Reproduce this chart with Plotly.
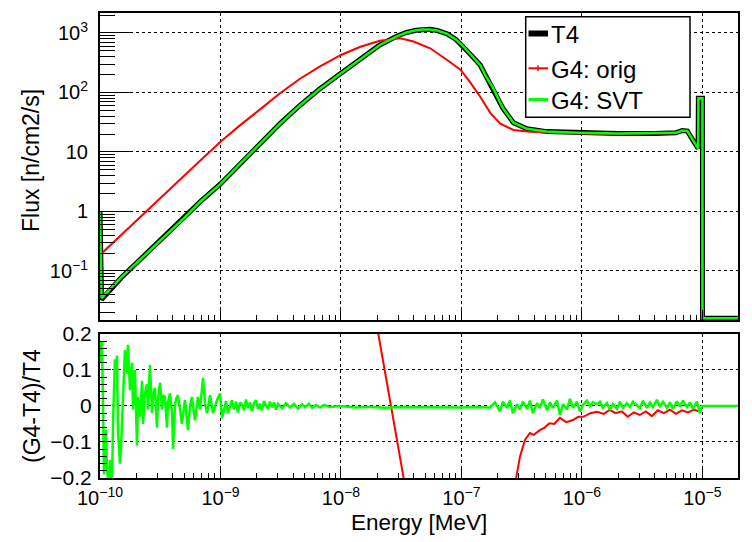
import plotly.graph_objects as go

# ---------------- data ----------------
# Top panel: neutron flux spectra, energy in MeV, flux in n/cm2/s (0 = empty bin)
t4_energy = [1.00e-10, 1.03e-10, 1.5e-10, 2e-10, 3e-10, 5e-10, 6.8e-10, 1e-9, 1.45e-9,
             2.13e-9, 3.12e-9, 4.57e-9, 6.7e-9, 1e-8, 1.45e-8, 2.1e-8, 2.9e-8, 3.5e-8,
             4.2e-8, 4.8e-8, 5.5e-8, 6.3e-8, 7.6e-8, 9e-8, 1e-7, 1.17e-7, 1.43e-7, 1.6e-7,
             1.82e-7, 2.0e-7, 2.2e-7, 2.7e-7, 3.5e-7, 5.1e-7, 9.5e-7, 2e-6, 4e-6, 6e-6,
             6.8e-6, 7.5e-6, 8.3e-6, 9.2e-6, 9.25e-6, 1.0e-5, 1.0001e-5, 2e-5]
t4_flux = [1.0, 0.033, 0.077, 0.135, 0.29, 0.78, 1.46, 2.9, 6.3,
           14, 30, 61, 116, 211, 370, 630, 880, 1020,
           1110, 1150, 1150, 1100, 970, 780, 640, 450, 290, 185,
           122, 82, 55, 31, 24.5, 22, 21, 20.5, 20.5, 21,
           23, 22.5, 16, 11.5, 80, 80, 0, 0]

svt_energy = list(t4_energy)
svt_flux = [1.0, 0.035, 0.078, 0.136, 0.29, 0.78, 1.47, 2.9, 6.3,
            14, 30, 61, 116, 211, 370, 628, 878, 1018,
            1108, 1148, 1148, 1098, 968, 780, 640, 450, 290, 185,
            122, 82, 55, 31, 24.5, 22, 21, 20.5, 20.5, 21,
            23, 22.5, 16, 11.5, 80, 80, 0, 0]

orig_energy = [1e-10, 1.5e-10, 2e-10, 3e-10, 5e-10, 6.8e-10, 1e-9, 1.45e-9, 2.13e-9,
               3.12e-9, 4.57e-9, 6.7e-9, 1e-8, 1.45e-8, 2.1e-8, 2.7e-8, 3.1e-8, 4e-8,
               5.5e-8, 7.6e-8, 9.8e-8, 1.17e-7, 1.43e-7, 1.74e-7, 2.1e-7, 2.7e-7, 3.7e-7,
               6.9e-7, 1e-6, 2e-6, 4e-6, 6e-6, 6.8e-6, 7.5e-6, 8.3e-6, 9.2e-6, 9.25e-6,
               1e-5, 1.0001e-5, 2e-5]
orig_flux = [0.186, 0.405, 0.705, 1.53, 4.1, 7.2, 14.8, 28, 52,
             97, 170, 275, 427, 588, 742, 790, 815, 720,
             553, 352, 241, 152, 85, 45, 30, 23.4, 21.9,
             21, 20.5, 20.2, 20.1, 20.6, 22.6, 22.1, 15.7, 11.3, 78,
             78, 0, 0]

# Bottom panel: relative difference (G4-T4)/T4, energies given as log10(E/MeV)
svt_ratio_log10E = [
    -10.000, -9.992, -9.983, -9.975, -9.967, -9.959, -9.950, -9.942, -9.925, -9.917,
    -9.900, -9.892, -9.876, -9.867, -9.859, -9.851, -9.834, -9.826, -9.809, -9.793,
    -9.776, -9.768, -9.751, -9.734, -9.726, -9.710, -9.693, -9.685, -9.668, -9.651,
    -9.643, -9.627, -9.610, -9.602, -9.585, -9.568, -9.560, -9.544, -9.527, -9.519,
    -9.502, -9.485, -9.477, -9.461, -9.444, -9.436, -9.419, -9.402, -9.394, -9.378,
    -9.369, -9.353, -9.336, -9.320, -9.295, -9.270, -9.253, -9.237, -9.212, -9.187,
    -9.170, -9.145, -9.129, -9.112, -9.087, -9.062, -9.029, -9.004, -8.987, -8.971,
    -8.954, -8.938, -8.921, -8.905, -8.888, -8.871, -8.855, -8.838, -8.821, -8.805,
    -8.788, -8.772, -8.755, -8.739, -8.722, -8.705, -8.689, -8.672, -8.656, -8.639,
    -8.622, -8.606, -8.589, -8.573, -8.556, -8.539, -8.523, -8.490, -8.457, -8.423,
    -8.390, -8.357, -8.324, -8.299, -8.266, -8.241, -8.207, -8.174, -8.141, -8.091,
    -8.008, -7.884, -7.759, -7.635, -7.510, -7.344, -7.178, -7.012, -6.888, -6.763,
    -6.722, -6.680, -6.656, -6.622, -6.598, -6.573, -6.539, -6.515, -6.490, -6.456,
    -6.432, -6.407, -6.373, -6.349, -6.324, -6.290, -6.266, -6.241, -6.207, -6.183,
    -6.158, -6.124, -6.100, -6.075, -6.042, -6.017, -5.992, -5.959, -5.934, -5.909,
    -5.876, -5.851, -5.826, -5.793, -5.768, -5.743, -5.710, -5.685, -5.660, -5.627,
    -5.602, -5.577, -5.544, -5.519, -5.494, -5.461, -5.436, -5.411, -5.378, -5.353,
    -5.328, -5.295, -5.270, -5.245, -5.212, -5.187, -5.162, -5.129, -5.104, -5.079,
    -5.046, -5.021, -5.004, -4.705]
svt_ratio = [
    0.18, 0.12, 0.18, -0.05, -0.19, -0.12, -0.067, -0.18, -0.22, -0.15,
    -0.21, -0.05, 0.13, 0.10, 0.14, -0.07, -0.16, -0.12, 0.0, 0.155,
    0.09, 0.17, 0.044, 0.12, -0.01, 0.10, -0.11, 0.025, -0.03, 0.07,
    -0.05, 0.035, 0.06, -0.01, 0.114, -0.02, 0.03, 0.05, -0.06, 0.02,
    0.064, -0.01, 0.03, 0.025, -0.06, 0.01, 0.035, -0.02, -0.12, 0.0,
    0.02, 0.03, -0.01, -0.05, 0.017, -0.067, 0.0, 0.025, -0.04, 0.025,
    -0.01, 0.078, 0.01, -0.02, 0.03, -0.02, 0.016, 0.035, -0.034, -0.012,
    0.014, -0.02, 0.0, 0.016, -0.01, 0.012, -0.018, 0.01, 0.004, -0.012,
    0.018, -0.006, 0.01, -0.014, 0.008, 0.016, -0.008, 0.006, -0.012, 0.014,
    0.0, -0.008, 0.012, -0.004, 0.01, -0.01, 0.006, -0.006, 0.008, -0.004,
    0.006, -0.007, 0.005, -0.003, 0.006, -0.005, 0.003, -0.004, 0.003, -0.003,
    0.0, -0.004, -0.002, -0.005, -0.003, -0.004, -0.005, -0.004, -0.003, -0.004,
    0.01, -0.015, 0.012, -0.005, 0.015, -0.02, 0.005, -0.01, 0.012, -0.008,
    0.015, -0.02, 0.008, -0.005, 0.018, -0.012, 0.01, -0.005, 0.015, -0.025,
    0.005, -0.01, 0.02, -0.005, 0.012, -0.015, 0.003, 0.015, 0.0, 0.01,
    0.005, 0.012, -0.005, 0.008, -0.01, 0.005, -0.008, 0.012, -0.005, 0.008,
    -0.003, 0.012, 0.002, -0.006, 0.015, -0.005, 0.01, -0.003, 0.017, 0.0,
    0.012, -0.005, 0.01, -0.008, 0.013, -0.002, 0.015, -0.003, 0.01, -0.008,
    0.012, -0.02, 0.0, 0.0]

orig_ratio_log10E = [-10.0, -9.0, -8.5, -8.0, -7.69, -7.585, -7.48, -7.3, -7.0, -6.85,
                     -6.74, -6.66, -6.60, -6.548, -6.514, -6.473, -6.45, -6.432, -6.40,
                     -6.35, -6.31, -6.27, -6.23, -6.183, -6.13, -6.075, -6.03, -5.99,
                     -5.93, -5.876, -5.82, -5.77, -5.72, -5.67, -5.62, -5.57, -5.52,
                     -5.47, -5.42, -5.37, -5.32, -5.27, -5.22, -5.17, -5.12, -5.07,
                     -5.03, -5.004]
orig_ratio = [4.2, 4.1, 2.2, 1.0, 0.2, 0.0, -0.2, -0.35, -0.57, -0.70,
              -0.69, -0.5, -0.3, -0.2, -0.14, -0.094, -0.085, -0.075, -0.08,
              -0.067, -0.06, -0.048, -0.05, -0.033, -0.045, -0.039, -0.03, -0.03,
              -0.02, -0.016, -0.022, -0.011, -0.02, -0.015, -0.03, -0.018, -0.025,
              -0.015, -0.028, -0.012, -0.02, -0.01, -0.022, -0.012, -0.018, -0.01,
              -0.015, -0.01]

legend_labels = ["T4", "G4: orig", "G4: SVT"]
x_tickvals = [1e-10, 1e-9, 1e-8, 1e-7, 1e-6, 1e-5]
x_ticktext = ["10<sup>\u221210</sup>", "10<sup>\u22129</sup>", "10<sup>\u22128</sup>",
              "10<sup>\u22127</sup>", "10<sup>\u22126</sup>", "10<sup>\u22125</sup>"]
flux_tickvals = [0.1, 1, 10, 100, 1000]
flux_ticktext = ["10<sup>\u22121</sup>", "1", "10", "10<sup>2</sup>", "10<sup>3</sup>"]
ratio_tickvals = [-0.2, -0.1, 0, 0.1, 0.2]
ratio_ticktext = ["\u22120.2", "\u22120.1", "0", "0.1", "0.2"]

# ---------------- figure ----------------
FONT = "Liberation Sans, Arial, Helvetica, sans-serif"
X_RANGE = [-10.0, -4.705]
Y_RANGE = [-1.824, 3.336]
floor = 10 ** (Y_RANGE[0] + 0.03)   # empty bins drawn on the frame bottom
BLACK, RED, GREEN = "black", "#ff0000", "#00ff00"


def on_log(vals):
    return [v if v > 0 else floor for v in vals]


fig = go.Figure()
fig.add_trace(go.Scatter(x=t4_energy, y=on_log(t4_flux), mode="lines", name=legend_labels[0],
                         line=dict(color=BLACK, width=5), xaxis="x2", yaxis="y2",
                         showlegend=False))
fig.add_trace(go.Scatter(x=orig_energy, y=on_log(orig_flux), mode="lines", name=legend_labels[1],
                         line=dict(color=RED, width=2), xaxis="x2", yaxis="y2",
                         showlegend=False))
fig.add_trace(go.Scatter(x=svt_energy, y=on_log(svt_flux), mode="lines", name=legend_labels[2],
                         line=dict(color=GREEN, width=2.5), xaxis="x2", yaxis="y2",
                         showlegend=False))

fig.add_trace(go.Scatter(x=[10 ** v for v in orig_ratio_log10E], y=orig_ratio, mode="lines",
                         name=legend_labels[1] + " ratio",
                         line=dict(color=RED, width=2), xaxis="x", yaxis="y",
                         showlegend=False))
fig.add_trace(go.Scatter(x=[10 ** v for v in svt_ratio_log10E], y=svt_ratio, mode="lines",
                         name=legend_labels[2] + " ratio",
                         line=dict(color=GREEN, width=2.5), xaxis="x", yaxis="y",
                         showlegend=False))

minor_log_x = [k * 10 ** d for d in range(-10, -4) for k in range(2, 10) if k * 10 ** d <= 2e-5]
minor_log_y = [k * 10 ** d for d in range(-2, 4) for k in range(2, 10)]

common_axis = dict(showline=True, linecolor="black", linewidth=2, mirror=True,
                   showgrid=True, gridcolor="black", griddash="dot", gridwidth=1,
                   zeroline=False, ticks="inside", tickcolor="black", tickwidth=1,
                   automargin=False)

# ---- ROOT-style legend box (drawn in paper coordinates) ----
def px_x(p):
    return (p - 100) / 638.0


def px_y(p):
    return (478 - p) / 465.0


leg_rows = [33.5, 68.3, 99.5]
leg_styles = [(BLACK, 6), (RED, 2), (GREEN, 3)]
shapes = [dict(type="rect", xref="paper", yref="paper", layer="above",
               x0=px_x(525.7), x1=px_x(690), y0=px_y(117.3), y1=px_y(16.7),
               fillcolor="white", line=dict(color="black", width=1.5))]
annotations = []
for lab, row, (col, w) in zip(legend_labels, leg_rows, leg_styles):
    shapes.append(dict(type="line", xref="paper", yref="paper", layer="above",
                       x0=px_x(528.5), x1=px_x(548), y0=px_y(row), y1=px_y(row),
                       line=dict(color=col, width=w)))
    annotations.append(dict(text=lab, xref="paper", yref="paper", x=px_x(549),
                            y=px_y(row + 1), xanchor="left", yanchor="middle",
                            showarrow=False, font=dict(size=24, color="black")))
shapes.append(dict(type="line", xref="paper", yref="paper", layer="above",
                   x0=px_x(538), x1=px_x(538), y0=px_y(leg_rows[1] - 3),
                   y1=px_y(leg_rows[1] + 3), line=dict(color=RED, width=1.5)))

annotations += [
    dict(text="Flux [n/cm2/s]", xref="paper", yref="paper", x=px_x(31), y=px_y(161),
         textangle=-90, showarrow=False, xanchor="center", yanchor="middle",
         font=dict(size=23)),
    dict(text="(G4-T4)/T4", xref="paper", yref="paper", x=px_x(32), y=px_y(406),
         textangle=-90, showarrow=False, xanchor="center", yanchor="middle",
         font=dict(size=23)),
    dict(text="Energy [MeV]", xref="paper", yref="paper", x=px_x(419), y=px_y(522),
         showarrow=False, xanchor="center", yanchor="middle",
         font=dict(size=22.5)),
]

fig.update_layout(
    template="none",
    width=752, height=542,
    margin=dict(l=100, r=14, t=13, b=64, pad=0),
    paper_bgcolor="white", plot_bgcolor="white",
    font=dict(family=FONT, color="black", size=20),
    showlegend=False,
    xaxis=dict(type="log", range=X_RANGE, domain=[0, 1], anchor="y",
               tickvals=x_tickvals, ticktext=x_ticktext, ticklen=10,
               tickfont=dict(size=20), ticklabelstandoff=1,
               minor=dict(tickvals=minor_log_x, ticks="inside", ticklen=5,
                          tickcolor="black", showgrid=False),
               **common_axis),
    yaxis=dict(range=[-0.2, 0.2], domain=[0, 0.3097], anchor="x",
               tickvals=ratio_tickvals, ticktext=ratio_ticktext, ticklen=11,
               tickfont=dict(size=21), ticklabelstandoff=2,
               minor=dict(dtick=0.02, tick0=0, ticks="inside", ticklen=7,
                          tickcolor="black", showgrid=False),
               **common_axis),
    xaxis2=dict(type="log", range=X_RANGE, domain=[0, 1], anchor="y2", matches="x",
                tickvals=x_tickvals, showticklabels=False, ticklen=10,
                minor=dict(tickvals=minor_log_x, ticks="inside", ticklen=5,
                           tickcolor="black", showgrid=False),
                **common_axis),
    yaxis2=dict(type="log", range=Y_RANGE, domain=[0.3398, 1], anchor="x2",
                tickvals=flux_tickvals, ticktext=flux_ticktext, ticklen=30,
                tickfont=dict(size=20), ticklabelstandoff=6,
                minor=dict(tickvals=minor_log_y, ticks="inside", ticklen=15,
                           tickcolor="black", showgrid=False),
                **common_axis),
    shapes=shapes,
    annotations=annotations,
)

fig.write_html("out.html", config={"displayModeBar": False},
               post_script="document.body.style.margin='0';")
